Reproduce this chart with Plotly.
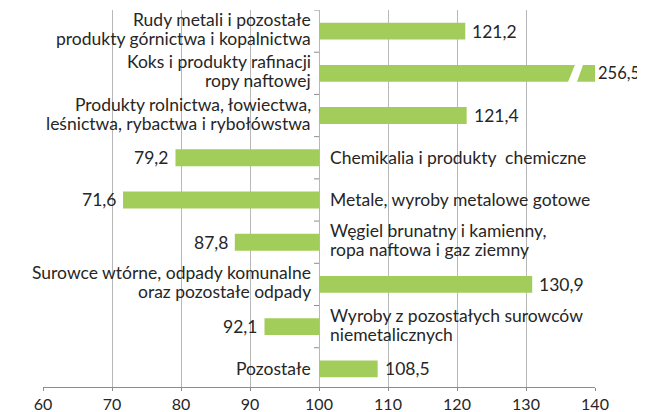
import plotly.graph_objects as go

categories = [
    ["Rudy metali i pozostałe", "produkty górnictwa i kopalnictwa"],
    ["Koks i produkty rafinacji", "ropy naftowej"],
    ["Produkty rolnictwa, łowiectwa,", "leśnictwa, rybactwa i rybołówstwa"],
    ["Chemikalia i produkty  chemiczne"],
    ["Metale, wyroby metalowe gotowe"],
    ["Węgiel brunatny i kamienny,", "ropa naftowa i gaz ziemny"],
    ["Surowce wtórne, odpady komunalne", "oraz pozostałe odpady"],
    ["Wyroby z pozostałych surowców", "niemetalicznych"],
    ["Pozostałe"],
]
values = [121.2, 256.5, 121.4, 79.2, 71.6, 87.8, 130.9, 92.1, 108.5]
x_ticks = [60, 70, 80, 90, 100, 110, 120, 130, 140]

BASE = 100
X_MIN, X_MAX = 60, 140
GREEN = "#a2cd5a"
TXT = "#262626"
FONT = "Lato, sans-serif"
LABEL_SIZE = 17.5
LINE_GAP = 19  # px between the two lines of a wrapped label

rows = list(range(len(categories)))

fig = go.Figure()
fig.add_trace(go.Bar(
    y=rows,
    x=[v - BASE for v in values],
    base=BASE,
    orientation="h",
    width=0.4,
    marker=dict(color=GREEN, line=dict(width=0)),
    hoverinfo="skip",
))

annotations = []
shapes = []
for i, (lines, v) in enumerate(zip(categories, values)):
    fmt = f"{v:.1f}".replace(".", ",")
    n = len(lines)
    for k, line in enumerate(lines):
        ys = 2 + (n - 1) * LINE_GAP / 2 - k * LINE_GAP if n > 1 else 0
        if v >= BASE:
            annotations.append(dict(x=BASE, y=i, text=line, xanchor="right",
                                    xshift=-6, yshift=ys, showarrow=False))
        else:
            annotations.append(dict(x=BASE, y=i, text=line, xanchor="left",
                                    xshift=9, yshift=ys, showarrow=False))
    if v > X_MAX:
        # off-scale value sits just past the right end of the axis
        annotations.append(dict(x=X_MAX, y=i, text=fmt, xanchor="left", xshift=2,
                                font=dict(size=16.5), borderpad=0, showarrow=False))
        # axis break on the bar that runs off the scale
        shapes.append(dict(type="path", xref="x", yref="y", layer="above",
                           path=(f"M 135.97 {i + 0.25} L 137.27 {i + 0.25} "
                                 f"L 138.39 {i - 0.25} L 137.22 {i - 0.25} Z"),
                           fillcolor="white", line=dict(width=0)))
    elif v >= BASE:
        annotations.append(dict(x=v, y=i, text=fmt, xanchor="left",
                                xshift=5, showarrow=False))
    else:
        annotations.append(dict(x=v, y=i, text=fmt, xanchor="right",
                                xshift=-5, showarrow=False))

# category separator ticks on the base line
frac = (BASE - X_MIN) / (X_MAX - X_MIN)
for i in range(len(categories) + 1):
    shapes.append(dict(type="line", xref="paper", yref="y", x0=frac - 0.009, x1=frac,
                       y0=i - 0.5, y1=i - 0.5,
                       line=dict(color="#8c8c8c", width=1), layer="below"))

# margins allow for the page's 8px body offset
fig.update_layout(
    width=645, height=412,
    margin=dict(l=35, r=58, t=2, b=33),
    paper_bgcolor="white", plot_bgcolor="white",
    font=dict(family=FONT, size=LABEL_SIZE, color=TXT),
    showlegend=False,
    annotations=annotations,
    shapes=shapes,
    xaxis=dict(range=[X_MIN, X_MAX], tickvals=x_ticks, showgrid=True,
               gridcolor="#b8b8b8", gridwidth=1, zeroline=False,
               showline=True, linecolor="#8c8c8c", ticks="outside", ticklen=3,
               tickcolor="#8c8c8c", tickfont=dict(size=16, color=TXT)),
    yaxis=dict(range=[len(categories) - 0.57, -0.5], showticklabels=False,
               showgrid=False, zeroline=False, showline=False),
)

fig.write_html("out.html")
